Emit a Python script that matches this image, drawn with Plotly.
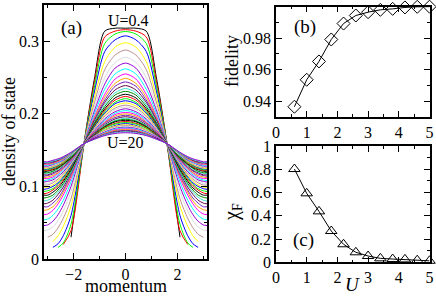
import plotly.graph_objects as go

# ---------------- data ----------------
# momentum grid (k) used for reading panel (a)
momentum = [-3.1416, -3.0, -2.8, -2.6, -2.4, -2.1, -1.6, -1.2, -0.8, -0.4, 0.0,
            0.4, 0.8, 1.2, 1.6, 2.1, 2.4, 2.6, 2.8, 3.0, 3.1416]

# U values of the curves in panel (a): 0.4 ... 20
U_curves = ["0.4"] + [""] * 43 + ["20"]

N = None
dos = [
 [N, N, N, N, N, 0.030, 0.159, 0.248, 0.314, 0.318, 0.318, 0.318, 0.314, 0.248, 0.159, 0.030, N, N, N, N, N],
 [N, N, N, N, 0.020, 0.039, 0.159, 0.243, 0.306, 0.314, 0.316, 0.314, 0.306, 0.243, 0.159, 0.039, 0.020, N, N, N, N],
 [N, N, N, 0.016, 0.022, 0.048, 0.159, 0.237, 0.297, 0.310, 0.3135, 0.310, 0.297, 0.237, 0.159, 0.048, 0.022, 0.016, N, N, N],
 [N, N, 0.016, 0.021, 0.032, 0.060, 0.159, 0.230, 0.286, 0.302, 0.3075, 0.302, 0.286, 0.230, 0.159, 0.060, 0.032, 0.021, 0.016, N, N],
 [N, N, 0.024, 0.032, 0.045, 0.073, 0.159, 0.222, 0.272, 0.292, 0.298, 0.292, 0.272, 0.222, 0.159, 0.073, 0.045, 0.032, 0.024, N, N],
 [N, 0.030, 0.034, 0.043, 0.056, 0.083, 0.159, 0.215, 0.261, 0.281, 0.288, 0.281, 0.261, 0.215, 0.159, 0.083, 0.056, 0.043, 0.034, 0.030, N],
 [0.039, 0.040, 0.044, 0.053, 0.066, 0.093, 0.159, 0.209, 0.250, 0.271, 0.278, 0.271, 0.250, 0.209, 0.159, 0.093, 0.066, 0.053, 0.044, 0.040, 0.039],
 [0.046, 0.047, 0.052, 0.061, 0.074, 0.100, 0.159, 0.204, 0.241, 0.263, 0.270, 0.263, 0.241, 0.204, 0.159, 0.100, 0.074, 0.061, 0.052, 0.047, 0.046],
 [0.054, 0.055, 0.060, 0.069, 0.081, 0.106, 0.159, 0.200, 0.234, 0.255, 0.262, 0.255, 0.234, 0.200, 0.159, 0.106, 0.081, 0.069, 0.060, 0.055, 0.054],
 [0.061, 0.062, 0.067, 0.076, 0.088, 0.111, 0.159, 0.196, 0.227, 0.248, 0.255, 0.248, 0.227, 0.196, 0.159, 0.111, 0.088, 0.076, 0.067, 0.062, 0.061],
 [0.067, 0.068, 0.072, 0.080, 0.092, 0.114, 0.159, 0.194, 0.223, 0.242, 0.249, 0.242, 0.223, 0.194, 0.159, 0.114, 0.092, 0.080, 0.072, 0.068, 0.067],
 [0.072, 0.072, 0.077, 0.084, 0.095, 0.116, 0.159, 0.192, 0.219, 0.238, 0.244, 0.238, 0.219, 0.192, 0.159, 0.116, 0.095, 0.084, 0.077, 0.072, 0.072],
 [0.076, 0.077, 0.081, 0.089, 0.099, 0.119, 0.159, 0.190, 0.216, 0.233, 0.239, 0.233, 0.216, 0.190, 0.159, 0.119, 0.099, 0.089, 0.081, 0.077, 0.076],
 [0.080, 0.081, 0.085, 0.092, 0.102, 0.120, 0.159, 0.188, 0.213, 0.229, 0.235, 0.229, 0.213, 0.188, 0.159, 0.120, 0.102, 0.092, 0.085, 0.081, 0.080],
 [0.084, 0.085, 0.088, 0.095, 0.104, 0.122, 0.159, 0.187, 0.210, 0.226, 0.231, 0.226, 0.210, 0.187, 0.159, 0.122, 0.104, 0.095, 0.088, 0.085, 0.084],
 [0.088, 0.088, 0.092, 0.098, 0.107, 0.124, 0.159, 0.185, 0.207, 0.222, 0.227, 0.222, 0.207, 0.185, 0.159, 0.124, 0.107, 0.098, 0.092, 0.088, 0.088],
 [0.090, 0.091, 0.095, 0.101, 0.109, 0.126, 0.159, 0.184, 0.205, 0.219, 0.224, 0.219, 0.205, 0.184, 0.159, 0.126, 0.109, 0.101, 0.095, 0.091, 0.090],
 [0.093, 0.094, 0.097, 0.103, 0.111, 0.127, 0.159, 0.183, 0.203, 0.216, 0.221, 0.216, 0.203, 0.183, 0.159, 0.127, 0.111, 0.103, 0.097, 0.094, 0.093],
 [0.096, 0.097, 0.100, 0.105, 0.113, 0.128, 0.159, 0.182, 0.201, 0.214, 0.218, 0.214, 0.201, 0.182, 0.159, 0.128, 0.113, 0.105, 0.100, 0.097, 0.096],
 [0.099, 0.099, 0.102, 0.108, 0.115, 0.130, 0.159, 0.180, 0.199, 0.211, 0.215, 0.211, 0.199, 0.180, 0.159, 0.130, 0.115, 0.108, 0.102, 0.099, 0.099],
 [0.102, 0.102, 0.105, 0.110, 0.117, 0.131, 0.159, 0.179, 0.197, 0.208, 0.212, 0.208, 0.197, 0.179, 0.159, 0.131, 0.117, 0.110, 0.105, 0.102, 0.102],
 [0.104, 0.104, 0.107, 0.112, 0.119, 0.132, 0.159, 0.178, 0.195, 0.206, 0.2095, 0.206, 0.195, 0.178, 0.159, 0.132, 0.119, 0.112, 0.107, 0.104, 0.104],
 [0.106, 0.107, 0.109, 0.114, 0.120, 0.133, 0.159, 0.177, 0.193, 0.203, 0.207, 0.203, 0.193, 0.177, 0.159, 0.133, 0.120, 0.114, 0.109, 0.107, 0.106],
 [0.108, 0.109, 0.111, 0.116, 0.122, 0.134, 0.159, 0.176, 0.191, 0.201, 0.2045, 0.201, 0.191, 0.176, 0.159, 0.134, 0.122, 0.116, 0.111, 0.109, 0.108],
 [0.111, 0.111, 0.113, 0.118, 0.124, 0.135, 0.159, 0.176, 0.189, 0.199, 0.202, 0.199, 0.189, 0.176, 0.159, 0.135, 0.124, 0.118, 0.113, 0.111, 0.111],
 [0.112, 0.113, 0.115, 0.119, 0.125, 0.136, 0.159, 0.175, 0.188, 0.197, 0.200, 0.197, 0.188, 0.175, 0.159, 0.136, 0.125, 0.119, 0.115, 0.113, 0.112],
 [0.114, 0.115, 0.117, 0.121, 0.126, 0.137, 0.159, 0.174, 0.187, 0.195, 0.198, 0.195, 0.187, 0.174, 0.159, 0.137, 0.126, 0.121, 0.117, 0.115, 0.114],
 [0.116, 0.116, 0.119, 0.122, 0.128, 0.138, 0.159, 0.173, 0.185, 0.193, 0.196, 0.193, 0.185, 0.173, 0.159, 0.138, 0.128, 0.122, 0.119, 0.116, 0.116],
 [0.118, 0.118, 0.120, 0.124, 0.129, 0.139, 0.159, 0.172, 0.184, 0.191, 0.194, 0.191, 0.184, 0.172, 0.159, 0.139, 0.129, 0.124, 0.120, 0.118, 0.118],
 [0.119, 0.119, 0.121, 0.125, 0.130, 0.139, 0.159, 0.172, 0.183, 0.190, 0.1925, 0.190, 0.183, 0.172, 0.159, 0.139, 0.130, 0.125, 0.121, 0.119, 0.119],
 [0.120, 0.121, 0.123, 0.126, 0.131, 0.140, 0.159, 0.171, 0.182, 0.189, 0.191, 0.189, 0.182, 0.171, 0.159, 0.140, 0.131, 0.126, 0.123, 0.121, 0.120],
 [0.122, 0.122, 0.124, 0.127, 0.132, 0.141, 0.159, 0.171, 0.181, 0.187, 0.1895, 0.187, 0.181, 0.171, 0.159, 0.141, 0.132, 0.127, 0.124, 0.122, 0.122],
 [0.123, 0.123, 0.125, 0.128, 0.133, 0.141, 0.159, 0.170, 0.180, 0.186, 0.188, 0.186, 0.180, 0.170, 0.159, 0.141, 0.133, 0.128, 0.125, 0.123, 0.123],
 [0.124, 0.124, 0.126, 0.129, 0.134, 0.142, 0.159, 0.170, 0.178, 0.184, 0.1865, 0.184, 0.178, 0.170, 0.159, 0.142, 0.134, 0.129, 0.126, 0.124, 0.124],
 [0.125, 0.125, 0.127, 0.130, 0.134, 0.143, 0.159, 0.169, 0.178, 0.183, 0.185, 0.183, 0.178, 0.169, 0.159, 0.143, 0.134, 0.130, 0.127, 0.125, 0.125],
 [0.126, 0.126, 0.128, 0.131, 0.135, 0.143, 0.159, 0.169, 0.177, 0.182, 0.184, 0.182, 0.177, 0.169, 0.159, 0.143, 0.135, 0.131, 0.128, 0.126, 0.126],
 [0.127, 0.127, 0.129, 0.132, 0.136, 0.143, 0.159, 0.168, 0.176, 0.181, 0.183, 0.181, 0.176, 0.168, 0.159, 0.143, 0.136, 0.132, 0.129, 0.127, 0.127],
 [0.128, 0.128, 0.130, 0.133, 0.136, 0.144, 0.159, 0.168, 0.175, 0.180, 0.1816, 0.180, 0.175, 0.168, 0.159, 0.144, 0.136, 0.133, 0.130, 0.128, 0.128],
 [0.129, 0.129, 0.131, 0.133, 0.137, 0.144, 0.159, 0.167, 0.174, 0.179, 0.1805, 0.179, 0.174, 0.167, 0.159, 0.144, 0.137, 0.133, 0.131, 0.129, 0.129],
 [0.130, 0.130, 0.132, 0.134, 0.138, 0.145, 0.159, 0.167, 0.173, 0.178, 0.1794, 0.178, 0.173, 0.167, 0.159, 0.145, 0.138, 0.134, 0.132, 0.130, 0.130],
 [0.131, 0.131, 0.132, 0.135, 0.138, 0.145, 0.159, 0.166, 0.173, 0.177, 0.1783, 0.177, 0.173, 0.166, 0.159, 0.145, 0.138, 0.135, 0.132, 0.131, 0.131],
 [0.132, 0.132, 0.133, 0.136, 0.139, 0.146, 0.159, 0.166, 0.172, 0.176, 0.1772, 0.176, 0.172, 0.166, 0.159, 0.146, 0.139, 0.136, 0.133, 0.132, 0.132],
 [0.132, 0.133, 0.134, 0.136, 0.140, 0.146, 0.159, 0.166, 0.171, 0.175, 0.1762, 0.175, 0.171, 0.166, 0.159, 0.146, 0.140, 0.136, 0.134, 0.133, 0.132],
 [0.133, 0.133, 0.135, 0.137, 0.140, 0.146, 0.159, 0.165, 0.171, 0.174, 0.1752, 0.174, 0.171, 0.165, 0.159, 0.146, 0.140, 0.137, 0.135, 0.133, 0.133],
 [0.134, 0.134, 0.136, 0.138, 0.141, 0.147, 0.159, 0.165, 0.170, 0.173, 0.174, 0.173, 0.170, 0.165, 0.159, 0.147, 0.141, 0.138, 0.136, 0.134, 0.134],
]

# panels (b) and (c)
U_points = [0.6, 1.0, 1.4, 1.8, 2.2, 2.6, 3.0, 3.4, 3.8, 4.2, 4.6, 5.0]
fidelity = [0.9365, 0.9536, 0.9652, 0.9791, 0.9892, 0.9943, 0.9964, 0.9979,
            0.9985, 0.9994, 0.9998, 0.9999]
chi_F = [0.802, 0.593, 0.438, 0.269, 0.155, 0.086, 0.054, 0.034, 0.028,
         0.025, 0.018, 0.013]

# ---------------- style ----------------
palette = ["#000000", "#ff0000", "#00ff00", "#0000ff", "#ffff00", "#bc8f8f",
           "#dcdcdc", "#9400d3", "#00ffff", "#ff00ff", "#ffa500", "#7221bc",
           "#670748", "#40e0d0", "#008b00"]
colors = [palette[i % len(palette)] for i in range(len(dos))]
colors[-1] = "#9400d3"

FONT = "Liberation Serif"
W, H = 436, 296

fig = go.Figure()

for i, row in enumerate(dos):
    fig.add_trace(go.Scatter(
        x=momentum, y=row, mode="lines", xaxis="x", yaxis="y",
        line=dict(color=colors[i], width=1, shape="spline", smoothing=0.8),
        showlegend=False, hoverinfo="skip"))

fig.add_trace(go.Scatter(
    x=U_points, y=fidelity, mode="lines+markers", xaxis="x2", yaxis="y2",
    line=dict(color="black", width=1),
    marker=dict(symbol="diamond-open", size=10, color="black", line=dict(width=1)),
    cliponaxis=False, showlegend=False))

fig.add_trace(go.Scatter(
    x=U_points, y=chi_F, mode="lines+markers", xaxis="x3", yaxis="y3",
    line=dict(color="black", width=1),
    marker=dict(symbol="triangle-up-open", size=10, color="black", line=dict(width=1)),
    cliponaxis=False, showlegend=False))


def px_x(p):
    return p / W


def px_y(p):
    return 1 - p / H


def ax(domain, rng, dtick, minor_dtick, anchor, tickvals=None, ticktext=None):
    d = dict(domain=domain, range=rng, anchor=anchor, automargin=False,
             showline=True, linecolor="black", linewidth=1.5, mirror="ticks",
             ticks="inside", ticklen=6, tickwidth=1, tickcolor="black",
             dtick=dtick, tick0=0,
             minor=dict(ticks="inside", ticklen=3, tickwidth=1, tickcolor="black",
                        dtick=minor_dtick),
             showgrid=False, zeroline=False,
             tickfont=dict(family=FONT, size=16, color="black"))
    if tickvals is not None:
        d.update(tickmode="array", tickvals=tickvals, ticktext=ticktext)
    return d


xa = [px_x(44), px_x(207)]
ya = [px_y(259), px_y(5)]
xb = [px_x(276), px_x(429.5)]
yb = [px_y(117), px_y(6.5)]
yc = [px_y(262.3), px_y(146)]

fig.update_layout(
    width=W, height=H, autosize=False,
    margin=dict(l=0, r=0, t=0, b=0, autoexpand=False),
    font=dict(family=FONT, size=16, color="black"),
    paper_bgcolor="white", plot_bgcolor="white",
    xaxis=ax(xa, [-3.1416, 3.1416], 2, 1, "y"),
    yaxis=ax(ya, [0, 0.35], 0.1, 0.05, "x"),
    xaxis2=ax(xb, [0, 5], 1, 0.5, "y2"),
    yaxis2=ax(yb, [0.93, 1.0], 0.02, 0.01, "x2",
              tickvals=[0.94, 0.96, 0.98, 1.0], ticktext=["0.94", "0.96", "0.98", "1"]),
    xaxis3=ax(xb, [0, 5], 1, 0.5, "y3"),
    yaxis3=ax(yc, [0, 1], 0.2, 0.1, "x3",
              tickvals=[0, 0.2, 0.4, 0.6, 0.8, 1.0],
              ticktext=["0", "0.2", "0.4", "0.6", "0.8", "1"]),
)

tf = dict(family=FONT, size=18, color="black")
C = dict(showarrow=False, xanchor="center", yanchor="middle")
ann = [
    dict(text="(a)", x=-2.1, y=0.319, xref="x", yref="y",
         font=dict(family=FONT, size=19, color="black"), **C),
    dict(text="U=0.4", x=0.1, y=0.328, xref="x", yref="y",
         font=dict(family=FONT, size=16, color="black"), **C),
    dict(text="U=20", x=0.0, y=0.160, xref="x", yref="y",
         font=dict(family=FONT, size=16, color="black"), **C),
    dict(text="(b)", x=0.95, y=0.9873, xref="x2", yref="y2",
         font=dict(family=FONT, size=19, color="black"), **C),
    dict(text="(c)", x=0.91, y=0.19, xref="x3", yref="y3",
         font=dict(family=FONT, size=19, color="black"), **C),
    dict(text="density of state", x=px_x(9), y=px_y(132), xref="paper", yref="paper",
         textangle=-90, font=tf, **C),
    dict(text="momentum", x=px_x(126), y=px_y(285.5), xref="paper", yref="paper",
         font=dict(family=FONT, size=18, color="black"), **C),
    dict(text="fidelity", x=px_x(232), y=px_y(61), xref="paper", yref="paper",
         textangle=-90, font=tf, **C),
    dict(text="χ<sub>F</sub>", x=px_x(232), y=px_y(212), xref="paper", yref="paper",
         textangle=-90, font=dict(family=FONT, size=20, color="black"), **C),
    dict(text="<i>U</i>", x=px_x(352), y=px_y(284), xref="paper", yref="paper",
         font=dict(family=FONT, size=19, color="black"), **C),
]
fig.update_layout(annotations=ann)

fig.write_html(
    "out.html",
    config={"displayModeBar": False},
    post_script="document.body.style.margin='0';document.body.style.padding='0';"
                "document.documentElement.style.overflow='hidden';")
